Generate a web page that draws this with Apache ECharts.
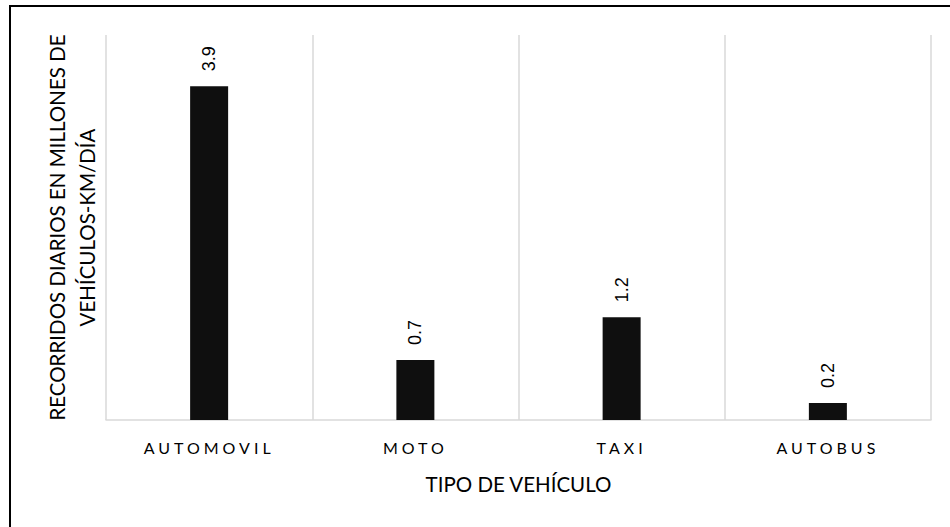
<!DOCTYPE html>
<html>
<head>
<meta charset="utf-8">
<script src="https://cdn.jsdelivr.net/npm/echarts@6/dist/echarts.min.js"></script>
<style>
  html, body { margin: 0; padding: 0; background: #fff; }
  #chart { width: 950px; height: 527px; }
  /* widen the tracking of the category labels */
  #chart text[style*="DejaVu"] { letter-spacing: 4px; }
</style>
</head>
<body>
<div id="chart"></div>
<script>
// Daily distance travelled by vehicle type (millions of vehicle-km/day)
const categories = ['AUTOMOVIL', 'MOTO', 'TAXI', 'AUTOBUS'];
const recorridos = [3.9, 0.7, 1.2, 0.2];
const xTitle = 'TIPO DE VEHÍCULO';
const yTitle = 'RECORRIDOS DIARIOS EN MILLONES DE\nVEHÍCULOS-KM/DÍA';

const chart = echarts.init(document.getElementById('chart'), null, { renderer: 'svg' });

chart.setOption({
  animation: false,
  backgroundColor: '#ffffff',
  grid: { left: 106, right: 19, top: 35, bottom: 107 },
  graphic: [{
    type: 'rect',
    shape: { x: 10, y: 6, width: 1000, height: 600 },
    style: { fill: 'none', stroke: '#000000', lineWidth: 2 },
    silent: true
  }],
  xAxis: {
    type: 'category',
    data: categories,
    boundaryGap: true,
    name: xTitle,
    nameLocation: 'middle',
    nameGap: 53,
    nameTextStyle: { fontFamily: 'Lato, sans-serif', fontSize: 20.5, color: '#000' },
    axisLine: { show: true, lineStyle: { color: '#d9d9d9', width: 1.5 } },
    axisTick: { show: false },
    axisLabel: {
      interval: 0,
      margin: 19,
      color: '#000',
      fontSize: 16,
      fontFamily: 'Lato, DejaVu Sans'
    },
    splitLine: { show: true, interval: 0, lineStyle: { color: '#d9d9d9', width: 1.5 } }
  },
  yAxis: {
    type: 'value',
    min: 0,
    max: 4.5,
    name: yTitle,
    nameLocation: 'middle',
    nameGap: 4,
    nameTextStyle: { fontFamily: 'Lato, sans-serif', fontSize: 20.5, color: '#000', lineHeight: 30, align: 'center' },
    axisLine: { show: false },
    axisTick: { show: false },
    axisLabel: { show: false },
    splitLine: { show: false }
  },
  series: [{
    type: 'bar',
    data: recorridos,
    barWidth: 38,
    itemStyle: { color: '#0f0f0f' },
    label: {
      show: true,
      position: 'top',
      rotate: 90,
      align: 'left',
      verticalAlign: 'middle',
      distance: 15,
      color: '#000',
      fontSize: 18,
      fontFamily: 'Liberation Sans, Arial, sans-serif',
      formatter: p => p.value.toFixed(1)
    }
  }]
});
</script>
</body>
</html>
